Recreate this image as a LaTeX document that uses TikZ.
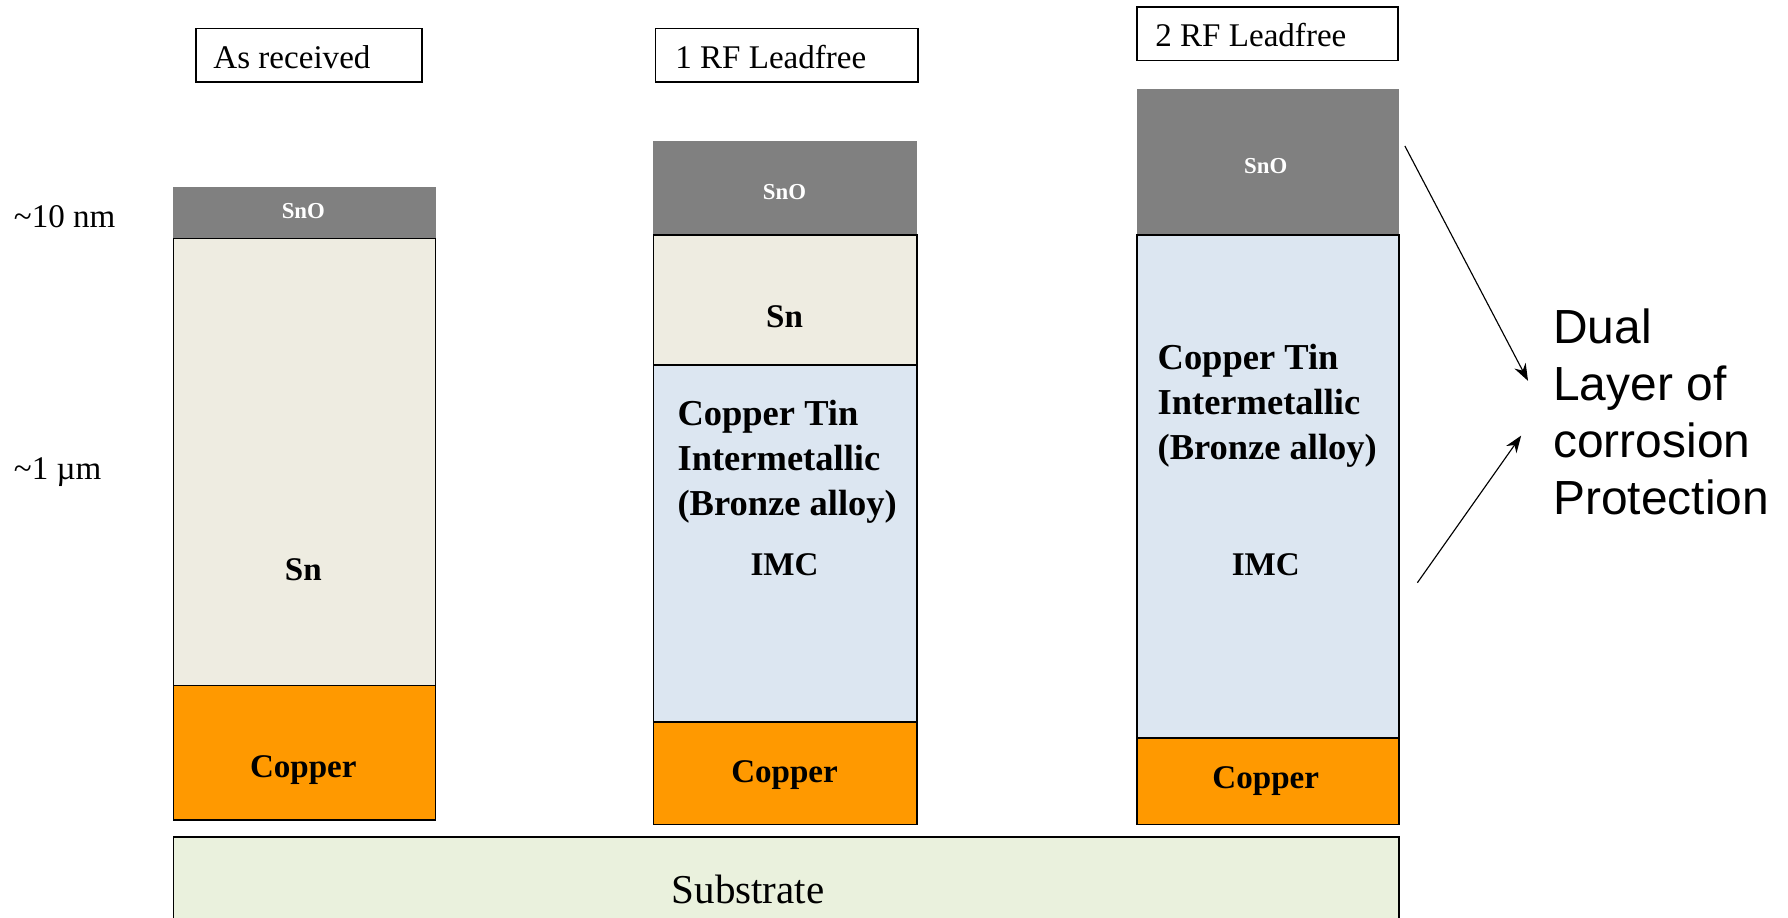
\documentclass[tikz,border=0pt]{standalone}
\usepackage{fontspec}
\setmainfont{Liberation Serif}
\newfontfamily\arialf{Liberation Sans}
\usetikzlibrary{arrows.meta}
\definecolor{snocol}{HTML}{808080}
\definecolor{sncol}{HTML}{EEECE1}
\definecolor{imccol}{HTML}{DCE6F1}
\definecolor{cucol}{HTML}{FF9900}
\definecolor{subcol}{HTML}{EAF1DD}
\begin{document}
\begin{tikzpicture}[x=1pt,y=-1pt,
  layer/.style={draw=black,line width=1.3pt},
  oxide/.style={fill=snocol},
  titlebox/.style={draw=black,line width=1.2pt,fill=white},
  txt/.style={inner sep=0pt,font=\fontsize{29}{34}\selectfont},
  btxt/.style={inner sep=0pt,font=\bfseries\fontsize{29}{34}\selectfont},
  otxt/.style={inner sep=0pt,text=white,font=\bfseries\fontsize{20}{24}\selectfont},
  imctxt/.style={inner sep=0pt,align=left,anchor=west,font=\bfseries\fontsize{32}{39.5}\selectfont},
  arr/.style={line width=1pt,-{Stealth[length=15pt,width=11pt]}}]
\clip (0,0) rectangle (1568,805);
\fill[white] (0,0) rectangle (1568,805);

% titles
\draw[titlebox] (172,25) rectangle (370,72);
\node[txt,anchor=west] (t1) at (187,50) {As received};
\draw[titlebox] (575,25) rectangle (805,72);
\node[txt,anchor=west] (t2) at (592,50) {1 RF Leadfree};
\draw[titlebox] (997,6) rectangle (1226,53);
\node[txt,anchor=west] (t3) at (1013,31) {2 RF Leadfree};

% scale labels
\node[txt,anchor=west] (s10) at (12,190) {\textasciitilde10 nm};
\node[txt,anchor=west] (s1) at (12,414) {\textasciitilde1 µm};

% column 1
\fill[oxide] (152,164) rectangle (382,209);
\filldraw[layer,fill=sncol] (152,209) rectangle (382,601);
\filldraw[layer,fill=cucol] (152,601) rectangle (382,719);
\node[otxt] (c1o) at (266,185) {SnO};
\node[btxt] (c1s) at (266,500) {Sn};
\node[btxt] (c1c) at (266,675) {Copper};

% column 2
\fill[oxide] (573,124) rectangle (804,206);
\filldraw[layer,fill=sncol] (573,206) rectangle (804,320);
\filldraw[layer,fill=imccol] (573,320) rectangle (804,633);
\filldraw[layer,fill=cucol] (573,633) rectangle (804,723);
\node[otxt] (c2o) at (688,168) {SnO};
\node[btxt] (c2s) at (688,278) {Sn};
\node[imctxt] (c2t) at (594,405) {Copper Tin\\Intermetallic\\(Bronze alloy)};
\node[btxt] (c2i) at (688,495) {IMC};
\node[btxt] (c2c) at (688,680) {Copper};

% column 3
\fill[oxide] (997,78) rectangle (1227,206);
\filldraw[layer,fill=imccol] (997,206) rectangle (1227,647);
\filldraw[layer,fill=cucol] (997,647) rectangle (1227,723);
\node[otxt] (c3o) at (1110,146) {SnO};
\node[imctxt] (c3t) at (1015,356) {Copper Tin\\Intermetallic\\(Bronze alloy)};
\node[btxt] (c3i) at (1110,495) {IMC};
\node[btxt] (c3c) at (1110,685) {Copper};

% substrate
\filldraw[layer,fill=subcol] (152,734) rectangle (1227,830);
\node[inner sep=0pt,font=\fontsize{36}{40}\selectfont] (sub) at (656,780) {Substrate};

% dual layer label and arrows
\node[inner sep=0pt,align=left,anchor=west,font=\arialf\fontsize{42}{50}\selectfont] (dual) at (1362,361) {Dual\\Layer of\\corrosion\\Protection};
\coordinate (a1s) at (1232,128);
\coordinate (a1e) at (1340,334);
\coordinate (a2s) at (1243,511);
\coordinate (a2e) at (1334,382);
\draw[arr] (a1s) -- (a1e);
\draw[arr] (a2s) -- (a2e);
\end{tikzpicture}
\end{document}
